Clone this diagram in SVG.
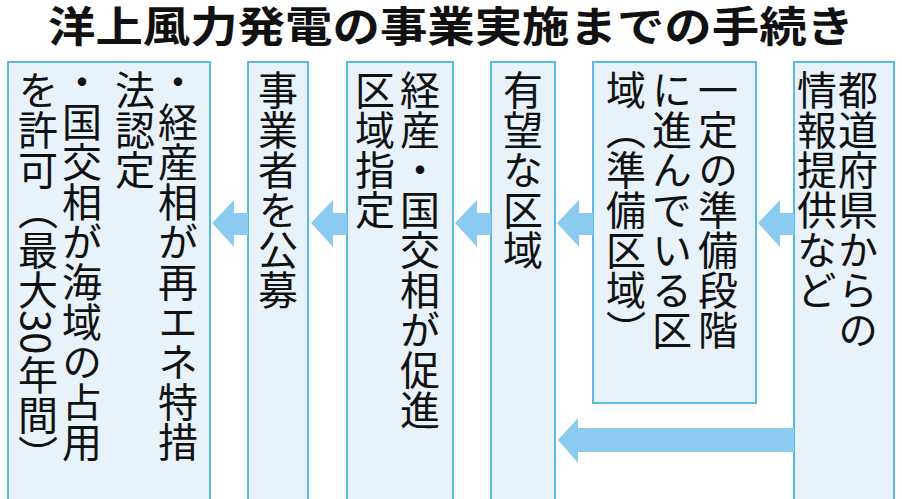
<svg xmlns="http://www.w3.org/2000/svg" width="902" height="499" viewBox="0 0 902 499">
<style>
.box{fill:#e7f2fb;stroke:#5ab9e8;stroke-width:2}
.v{font-family:"Noto Sans CJK JP",sans-serif;font-size:40px;writing-mode:vertical-rl;fill:#111}
.ar{fill:#8ccbf0}
</style>
<rect width="902" height="499" fill="#fff"/>
<text x="451" y="42" text-anchor="middle" font-family="'Noto Sans CJK JP',sans-serif" font-weight="bold" font-size="42" textLength="806" lengthAdjust="spacingAndGlyphs" fill="#111">洋上風力発電の事業実施までの手続き</text>
<g id="n1"><rect class="box" x="794" y="62" width="100" height="440"/>
<text class="v" x="858" y="70">都道府県からの</text><text class="v" x="817" y="70">情報提供など</text></g>
<g id="n2"><rect class="box" x="593" y="62" width="163" height="341"/>
<text class="v" x="718" y="70">一定の準備段階</text><text class="v" x="672" y="70">に進んでいる区</text><text class="v" x="626" y="70">域（準備区域）</text></g>
<g id="n3"><rect class="box" x="491" y="62" width="64" height="440"/>
<text class="v" x="523" y="70">有望な区域</text></g>
<g id="n4"><rect class="box" x="347" y="62" width="106" height="440"/>
<text class="v" x="420" y="70">経産・国交相が促進</text><text class="v" x="375" y="70">区域指定</text></g>
<g id="n5"><rect class="box" x="248" y="62" width="60" height="440"/>
<text class="v" x="278" y="70">事業者を公募</text></g>
<g id="n6"><rect class="box" x="8" y="62" width="202" height="440"/>
<text class="v" x="178" y="62">・経産相が再エネ特措</text><text class="v" x="135" y="70">法認定</text><text class="v" x="82" y="62">・国交相が海域の占用</text><text class="v" x="38" y="70">を許可（最大30年間）</text></g>
<g id="connectors">
<polygon class="ar" points="794,213 780,213 780,200 758,223 780,247 780,235 794,235"/>
<polygon class="ar" points="593,213 579,213 579,200 557,223 579,247 579,235 593,235"/>
<polygon class="ar" points="491,213 477,213 477,200 455,223 477,247 477,235 491,235"/>
<polygon class="ar" points="347,213 333,213 333,200 311,223 333,247 333,235 347,235"/>
<polygon class="ar" points="248,213 234,213 234,200 212,223 234,247 234,235 248,235"/>
<polygon class="ar" points="794,428 578,428 578,418 558,440 578,463 578,452 794,452"/>
</g>
</svg>
